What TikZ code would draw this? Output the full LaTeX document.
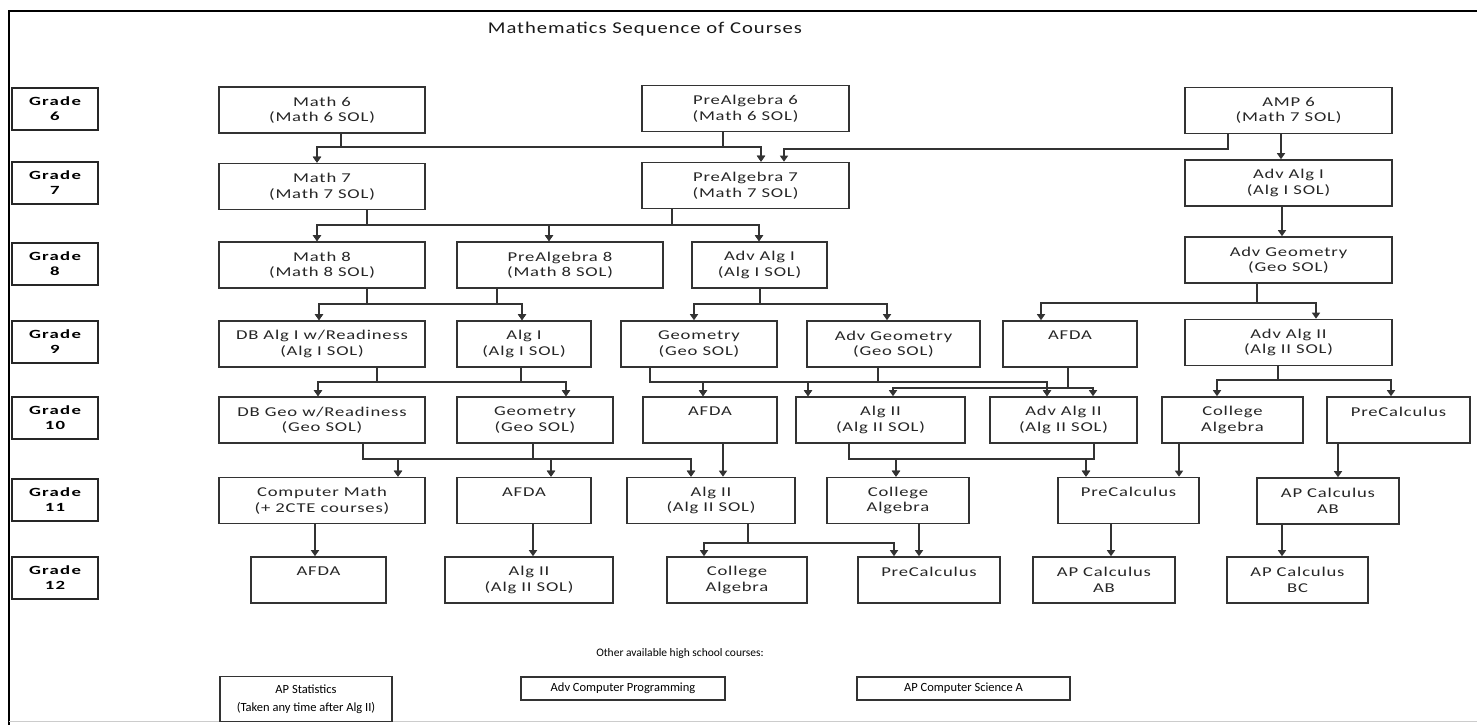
\documentclass[tikz,border=0pt]{standalone}
\usepackage{fontspec}
\setmainfont{Carlito}
\newfontfamily\widefont{Carlito}[FakeStretch=1.38,LetterSpace=6]
\newfontfamily\gradefont{Carlito}[FakeStretch=1.5,LetterSpace=10]
\newfontfamily\titlefont{Carlito}[FakeStretch=1.25,LetterSpace=6]
\usetikzlibrary{arrows.meta}

\newcommand{\cn}{\node[course]}
\newcommand{\gn}{\node[grade]}
\newcommand{\link}[5]{\draw[arr] (#1.south -| #2,0) |- (#5,#3) -- (#4.north -| #5,0);}

\tikzset{
  wire/.style={draw=black!80, line width=1.8pt},
  arr/.style={wire, -{Triangle[width=8pt,length=6pt]}},
  course/.style={draw=black!80, line width=1.6pt, minimum height=46, inner sep=2pt,
    align=center, text=black!85, font=\widefont\fontsize{13.5}{15.5}\selectfont},
  oneline/.style={text depth=17pt},
  grade/.style={draw=black!85, line width=1.6pt, minimum width=86, minimum height=42,
    inner sep=1pt, align=center, font=\gradefont\bfseries\fontsize{12.5}{15}\selectfont},
  other/.style={draw=black!80, line width=1.6pt, inner sep=2pt, align=center,
    font=\fontsize{12.5}{18}\selectfont}
}

\begin{document}
\begin{tikzpicture}[x=1pt,y=-1pt]
\useasboundingbox (0,0) rectangle (1477,725);
\fill[white] (0,0) rectangle (1477,725);
\draw[line width=1.6pt] (9,725) -- (9,11) -- (1477,11);
\draw[black!20, line width=1pt] (9,721) -- (1477,721);

\node[font=\titlefont\fontsize{16.5}{20}\selectfont, text=black!90] (title) at (645,29) {Mathematics Sequence of Courses};

% grade labels
\gn (g6) at (55,109) {Grade\\6};
\gn (g7) at (55,183) {Grade\\7};
\gn (g8) at (55,264) {Grade\\8};
\gn (g9) at (55,342) {Grade\\9};
\gn (g10) at (55,418) {Grade\\10};
\gn (g11) at (55,500) {Grade\\11};
\gn (g12) at (55,578) {Grade\\12};

% grade 6
\cn[minimum width=206] (m6) at (322,110) {Math 6\\(Math 6 SOL)};
\cn[minimum width=207] (pa6) at (745.5,108.5) {PreAlgebra 6\\(Math 6 SOL)};
\cn[minimum width=207] (amp6) at (1288.5,110.5) {AMP 6\\(Math 7 SOL)};
% grade 7
\cn[minimum width=206] (m7) at (322,186.5) {Math 7\\(Math 7 SOL)};
\cn[minimum width=207] (pa7) at (745.5,185.5) {PreAlgebra 7\\(Math 7 SOL)};
\cn[minimum width=207] (aa7) at (1288.5,183) {Adv Alg I\\(Alg I SOL)};
% grade 8
\cn[minimum width=206] (m8) at (322,265) {Math 8\\(Math 8 SOL)};
\cn[minimum width=206] (pa8) at (560,265) {PreAlgebra 8\\(Math 8 SOL)};
\cn[minimum width=135] (aa8) at (759.5,265) {Adv Alg I\\(Alg I SOL)};
\cn[minimum width=207] (ag8) at (1288.5,260) {Adv Geometry\\(Geo SOL)};
% grade 9
\cn[minimum width=206] (dba9) at (322,344) {DB Alg I w/Readiness\\(Alg I SOL)};
\cn[minimum width=134] (a9) at (524,344) {Alg I\\(Alg I SOL)};
\cn[minimum width=156] (g9) at (699,344) {Geometry\\(Geo SOL)};
\cn[minimum width=173] (ag9) at (893.5,344) {Adv Geometry\\(Geo SOL)};
\cn[minimum width=134, oneline] (afda9) at (1070,344) {AFDA};
\cn[minimum width=207] (aa9) at (1288.5,342.5) {Adv Alg II\\(Alg II SOL)};
% grade 10
\cn[minimum width=206] (dbg10) at (322,420) {DB Geo w/Readiness\\(Geo SOL)};
\cn[minimum width=156] (g10) at (535,420) {Geometry\\(Geo SOL)};
\cn[minimum width=134, oneline] (afda10) at (710,420) {AFDA};
\cn[minimum width=169] (a10) at (880.5,420) {Alg II\\(Alg II SOL)};
\cn[minimum width=147] (aa10) at (1063.5,420) {Adv Alg II\\(Alg II SOL)};
\cn[minimum width=141] (ca10) at (1232.5,420) {College\\Algebra};
\cn[minimum width=143, oneline] (pc10) at (1398.5,420) {PreCalculus};
% grade 11
\cn[minimum width=206] (cm11) at (322,500.5) {Computer Math\\(+ 2CTE courses)};
\cn[minimum width=134, oneline] (afda11) at (524,500.5) {AFDA};
\cn[minimum width=168] (a11) at (711,500.5) {Alg II\\(Alg II SOL)};
\cn[minimum width=142] (ca11) at (898,500.5) {College\\Algebra};
\cn[minimum width=141, oneline] (pc11) at (1128.5,500.5) {PreCalculus};
\cn[minimum width=142] (ab11) at (1328,501) {AP Calculus\\AB};
% grade 12
\cn[minimum width=135, oneline] (afda12) at (318.5,580) {AFDA};
\cn[minimum width=168] (a12) at (529,580) {Alg II\\(Alg II SOL)};
\cn[minimum width=140] (ca12) at (737,580) {College\\Algebra};
\cn[minimum width=142, oneline] (pc12) at (929,580) {PreCalculus};
\cn[minimum width=142] (ab12) at (1104,580) {AP Calculus\\AB};
\cn[minimum width=141] (bc12) at (1297.5,580) {AP Calculus\\BC};

% other courses
\node[font=\fontsize{11.5}{15}\selectfont] (otherhd) at (680,653) {Other available high school courses:};
\node[other, minimum width=172, minimum height=45] (apstat) at (306,699) {AP Statistics\\(Taken any time after Alg II)};
\node[other, minimum width=204, minimum height=23] (advcp) at (623,688.5) {Adv Computer Programming};
\node[other, minimum width=213, minimum height=23] (apcs) at (963.5,688.5) {AP Computer Science A};

% 6 -> 7
\link{m6}{341}{147}{m7}{317}
\link{m6}{341}{147}{pa7}{761}
\link{pa6}{723}{147}{m7}{317}
\link{pa6}{723}{147}{pa7}{761}
\link{amp6}{1228}{149}{pa7}{784}
\link{amp6}{1281}{148}{aa7}{1281}
% 7 -> 8
\link{m7}{367}{225}{m8}{317}
\link{m7}{367}{225}{pa8}{549}
\link{m7}{367}{225}{aa8}{759}
\link{pa7}{672}{225}{m8}{317}
\link{pa7}{672}{225}{pa8}{549}
\link{pa7}{672}{225}{aa8}{759}
\link{aa7}{1282}{220}{ag8}{1282}
% 8 -> 9
\link{m8}{367}{304}{dba9}{319}
\link{m8}{367}{304}{a9}{522}
\link{pa8}{497}{304}{dba9}{319}
\link{pa8}{497}{304}{a9}{522}
\link{aa8}{760}{304}{g9}{694}
\link{aa8}{760}{304}{ag9}{887}
\link{ag8}{1257}{303}{afda9}{1041}
\link{ag8}{1257}{303}{aa9}{1316}
% 9 -> 10
\link{dba9}{377}{382}{dbg10}{318}
\link{dba9}{377}{382}{g10}{566}
\link{a9}{521}{382}{dbg10}{318}
\link{a9}{521}{382}{g10}{566}
\link{g9}{650}{382}{afda10}{703}
\link{g9}{650}{382}{a10}{808}
\link{g9}{650}{382}{aa10}{1047}
\link{ag9}{878}{382}{afda10}{703}
\link{ag9}{878}{382}{a10}{808}
\link{ag9}{878}{382}{aa10}{1047}
\link{afda9}{1068}{388}{a10}{893}
\link{afda9}{1068}{388}{aa10}{1093}
\link{aa9}{1278}{380}{ca10}{1217}
\link{aa9}{1278}{380}{pc10}{1391}
% 10 -> 11
\link{dbg10}{363}{459}{cm11}{398}
\link{dbg10}{363}{459}{afda11}{551}
\link{dbg10}{363}{459}{a11}{691}
\link{g10}{533}{459}{cm11}{398}
\link{g10}{533}{459}{afda11}{551}
\link{g10}{533}{459}{a11}{691}
\link{afda10}{723}{459}{a11}{723}
\link{a10}{849}{459}{ca11}{896}
\link{a10}{849}{459}{pc11}{1086}
\link{aa10}{1094}{459}{ca11}{896}
\link{aa10}{1094}{459}{pc11}{1086}
\link{ca10}{1179}{459}{pc11}{1179}
\link{pc10}{1338}{459}{ab11}{1338}
% 11 -> 12
\link{cm11}{315}{540}{afda12}{315}
\link{afda11}{533}{540}{a12}{533}
\link{a11}{748}{543}{ca12}{704}
\link{a11}{748}{543}{pc12}{894}
\link{ca11}{919}{540}{pc12}{919}
\link{pc11}{1111}{540}{ab12}{1111}
\link{ab11}{1282}{540}{bc12}{1282}
\end{tikzpicture}
\end{document}
